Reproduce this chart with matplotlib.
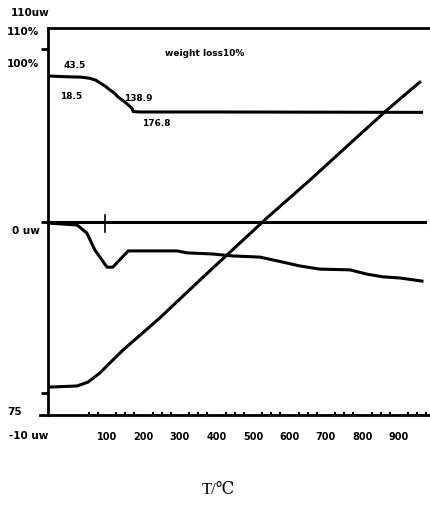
import matplotlib
matplotlib.use("Agg")
import matplotlib.pyplot as plt
from matplotlib.lines import Line2D

# ---- data (y in arbitrary signal units 0..100) ----
tg_T = [-62, -10, 30, 53, 70, 81, 95, 108, 120, 130, 150, 168, 172, 190, 400, 966]
tg_Y = [87.6, 87.4, 87.3, 87.0, 86.5, 85.8, 85.0, 84.0, 83.2, 82.2, 80.8, 79.3, 78.4, 78.3, 78.3, 78.2]

base_T = [-62, 971]
base_Y = [49.9, 49.9]

dsc_T = [-62, 18, 45, 67, 100, 116, 158, 218, 292, 319, 390, 445, 519, 582, 629, 683, 766, 812, 856, 903, 963]
dsc_Y = [49.6, 49.1, 47.0, 42.6, 38.2, 38.2, 42.4, 42.4, 42.4, 41.9, 41.6, 41.1, 40.8, 39.5, 38.5, 37.7, 37.5, 36.4, 35.7, 35.4, 34.6]

ramp_T = [-62, 18, 48, 81, 116, 144, 245, 355, 538, 656, 785, 867, 957]
ramp_Y = [7.2, 7.5, 8.5, 10.9, 14.2, 16.8, 25.1, 34.9, 50.9, 60.7, 71.8, 78.8, 86.0]

cross_T = 94.5
cross_Y = [47.3, 51.7]

x_ticks = [100, 200, 300, 400, 500, 600, 700, 800, 900]
x_ticklabels = ["100", "200", "300", "400", "500", "600", "700", "800", "900"]

annotations = [("43.5", 12, 90.4), ("18.5", 1.4, 82.2), ("138.9", 185, 81.9),
               ("176.8", 234, 75.2), ("weight loss10%", 368, 93.3)]

left_labels = [("110uw", 11, 13), ("110%", 7, 32), ("100%", 7, 64),
               ("0 uw", 12, 231), ("75", 7, 412), ("-10 uw", 9, 436)]

W, H = 431, 517
fig = plt.figure(figsize=(W / 100, H / 100), dpi=100)
ax = fig.add_axes([48 / W, 1 - 415 / H, 382 / W, 387 / H])
ax.set_xlim(-61.6, 985)
ax.set_ylim(0, 100)

lw = 2.2
ax.plot(tg_T, tg_Y, color="black", lw=lw, solid_capstyle="butt")
ax.plot(base_T, base_Y, color="black", lw=lw)
ax.plot(dsc_T, dsc_Y, color="black", lw=lw)
ax.plot(ramp_T, ramp_Y, color="black", lw=lw)
ax.plot([cross_T, cross_T], cross_Y, color="black", lw=1.2)

ax.spines["right"].set_visible(False)
for spine in ["left", "bottom", "top"]:
    ax.spines[spine].set_linewidth(2.0)

# bottom line extends a bit to the left of the vertical axis
ax.add_line(Line2D([-0.02, 0], [0, 0], transform=ax.transAxes, color="black",
                   lw=2.0, clip_on=False))

bold = dict(family="DejaVu Sans", weight="bold")
ax.set_xticks(x_ticks)
ax.set_xticklabels(x_ticklabels, fontsize=7, **bold)
ax.tick_params(axis="x", which="major", length=0, pad=12)
ax.set_xticks(list(range(50, 976, 25)), minor=True)
ax.tick_params(axis="x", which="minor", direction="in", length=2.5, width=1.5)

ax.set_yticks([])
ax.set_yticks([94.6, 49.9, 5.7], minor=True)
ax.tick_params(axis="y", which="minor", direction="out", length=5, width=2)

for txt, t, y in annotations:
    ax.text(t, y, txt, ha="center", va="center", fontsize=6.5, **bold)

for txt, px, py in left_labels:
    fig.text(px / W, 1 - py / H, txt, ha="left", va="center", fontsize=7.5, **bold)

fig.text(218 / W, 1 - 490 / H, "T/℃", ha="center", va="center", fontsize=12,
         family=["Liberation Serif", "DejaVu Serif"])

fig.savefig("out.png", dpi=100)
